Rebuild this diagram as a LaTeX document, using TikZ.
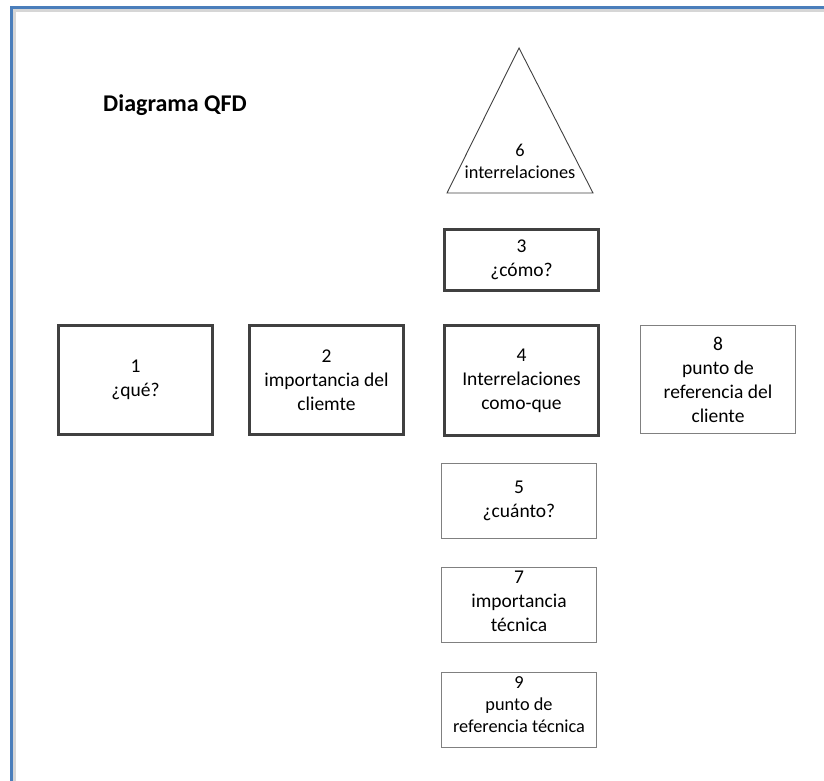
\documentclass[tikz,border=0pt]{standalone}
\usepackage{fontspec}
\setmainfont{Carlito}
\definecolor{framebl}{HTML}{4A7EBB}
\definecolor{shadowgr}{HTML}{D6D6D6}
\definecolor{thickgr}{HTML}{404040}
\definecolor{thingr}{HTML}{808080}
\begin{document}
\begin{tikzpicture}[x=1pt,y=-1pt,
  txt/.style={font=\fontsize{19.5}{24}\selectfont, align=center, inner sep=0pt},
  smalltxt/.style={font=\fontsize{18.3}{22}\selectfont, align=center, inner sep=0pt},
  thickbox/.style={draw=thickgr, line width=3pt, rectangle, minimum height=#1, minimum width=154pt, inner sep=0pt},
  thinbox/.style={draw=thingr, line width=1.2pt, rectangle, minimum height=#1, minimum width=155pt, inner sep=0pt},
  tri/.style={draw=black!75, line width=0.9pt, line join=miter}
]
\useasboundingbox (0,0) rectangle (824,781);
% frame
\draw[shadowgr, line width=3pt] (14.5,781) -- (14.5,10.5) -- (824,10.5);
\draw[framebl, line width=3pt] (11.5,781) -- (11.5,7.5) -- (824,7.5);
% title
\node[font=\fontsize{24}{28}\selectfont\bfseries, inner sep=0pt] (title) at (175,105) {Diagrama QFD};
% triangle 6
\coordinate (tA) at (519,48);
\coordinate (tL) at (447,193);
\coordinate (tR) at (593,193);
\draw[tri] (tA) -- (tL) -- (tR) -- cycle;
\node[smalltxt] (n6) at (520,161) {6\\interrelaciones};
% thick boxes
\node[thickbox=109pt, txt] (n1) at (135.5,380) {1\\¿qué?};
\node[thickbox=109pt, txt] (n2) at (326.5,380) {2\\importancia del\\cliemte};
\node[thickbox=61pt, txt] (n3) at (521.5,260) {3\\¿cómo?};
\node[thickbox=110pt, txt] (n4) at (521.5,380.5) {4\\Interrelaciones\\como-que};
% thin boxes
\node[thinbox=108pt, txt] (n8) at (718,379.5) {8\\punto de\\referencia del\\cliente};
\node[thinbox=75pt, txt] (n5) at (519,501) {5\\¿cuánto?};
\node[thinbox=75pt] (n7) at (519,605) {};
\node[txt] (n7t) at (519,601) {7\\importancia\\técnica};
\node[thinbox=75pt] (n9) at (519,710) {};
\node[smalltxt] (n9t) at (519,705) {9\\punto de\\referencia técnica};
\end{tikzpicture}
\end{document}
